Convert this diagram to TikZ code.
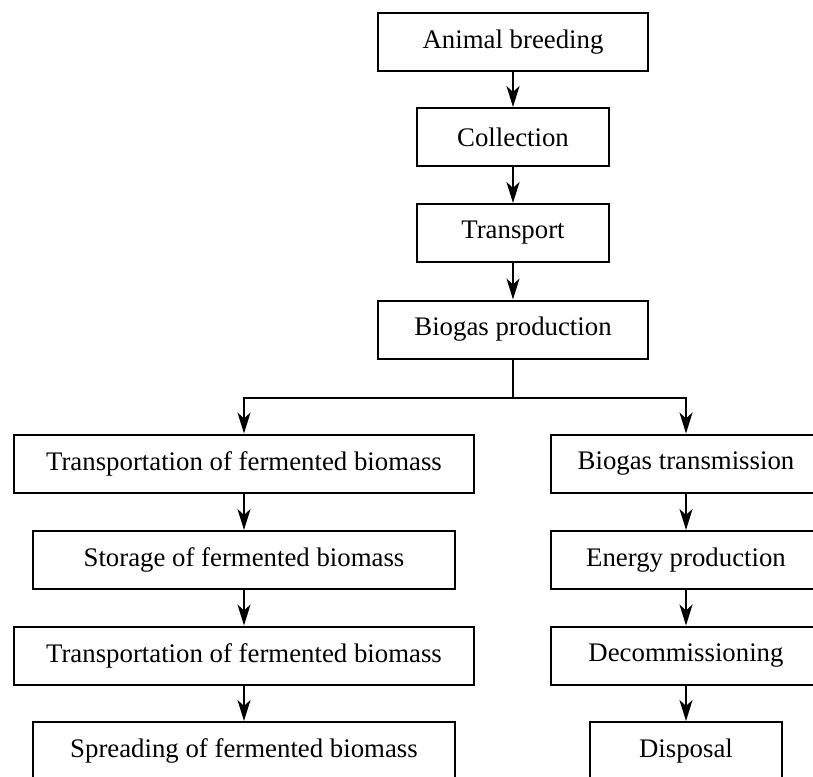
\documentclass[tikz,border=0pt]{standalone}
\usepackage{fontspec}
\setmainfont{Liberation Serif}
\usetikzlibrary{arrows.meta}
\tikzset{
  stagebox/.style={draw, line width=2pt, minimum height=58pt, inner sep=0pt,
    font=\fontsize{26.8}{32}\selectfont},
  flow/.style={line width=2.4pt, -{Stealth[length=21pt, width=13pt, inset=6pt]}}
}
\begin{document}
\begin{tikzpicture}[x=1pt, y=-1pt]
      \useasboundingbox (0, 0) rectangle (813, 776);
      \clip (0, 0) rectangle (813, 776);
      \node[stagebox, minimum width=270pt](breed) at (513, 42) {Animal breeding};
      \node[stagebox, minimum width=192pt](collect) at (513, 137) {Collection};
      \node[stagebox, minimum width=192pt](transport) at (513, 233) {Transport};
      \node[stagebox, minimum width=270pt](biogas) at (513, 329.5) {Biogas production};
      \node[stagebox, minimum width=460pt](trans1) at (244, 463.5) {Transportation of fermented biomass};
      \node[stagebox, minimum width=422pt](store) at (244, 560) {Storage of fermented biomass};
      \node[stagebox, minimum width=460pt](trans2) at (244, 655.5) {Transportation of fermented biomass};
      \node[stagebox, minimum width=422pt](spread) at (244, 751) {Spreading of fermented biomass};
      \node[stagebox, minimum width=270pt](gastr) at (686, 463.5) {Biogas transmission};
      \node[stagebox, minimum width=270pt](energy) at (686, 560) {Energy production};
      \node[stagebox, minimum width=270pt](decomm) at (686, 655.5) {Decommissioning};
      \node[stagebox, minimum width=192pt](dispose) at (686, 751) {Disposal};
      \coordinate (split) at (513, 398);
      \draw[flow](breed)--(collect);
      \draw[flow](collect)--(transport);
      \draw[flow](transport)--(biogas);
      \draw[line width=2.4pt](biogas)--(split);
      \draw[flow](split)-|(trans1);
      \draw[flow](split)-|(gastr);
      \draw[flow](trans1)--(store);
      \draw[flow](store)--(trans2);
      \draw[flow](trans2)--(spread);
      \draw[flow](gastr)--(energy);
      \draw[flow](energy)--(decomm);
      \draw[flow](decomm)--(dispose);
    \end{tikzpicture}
\end{document}
